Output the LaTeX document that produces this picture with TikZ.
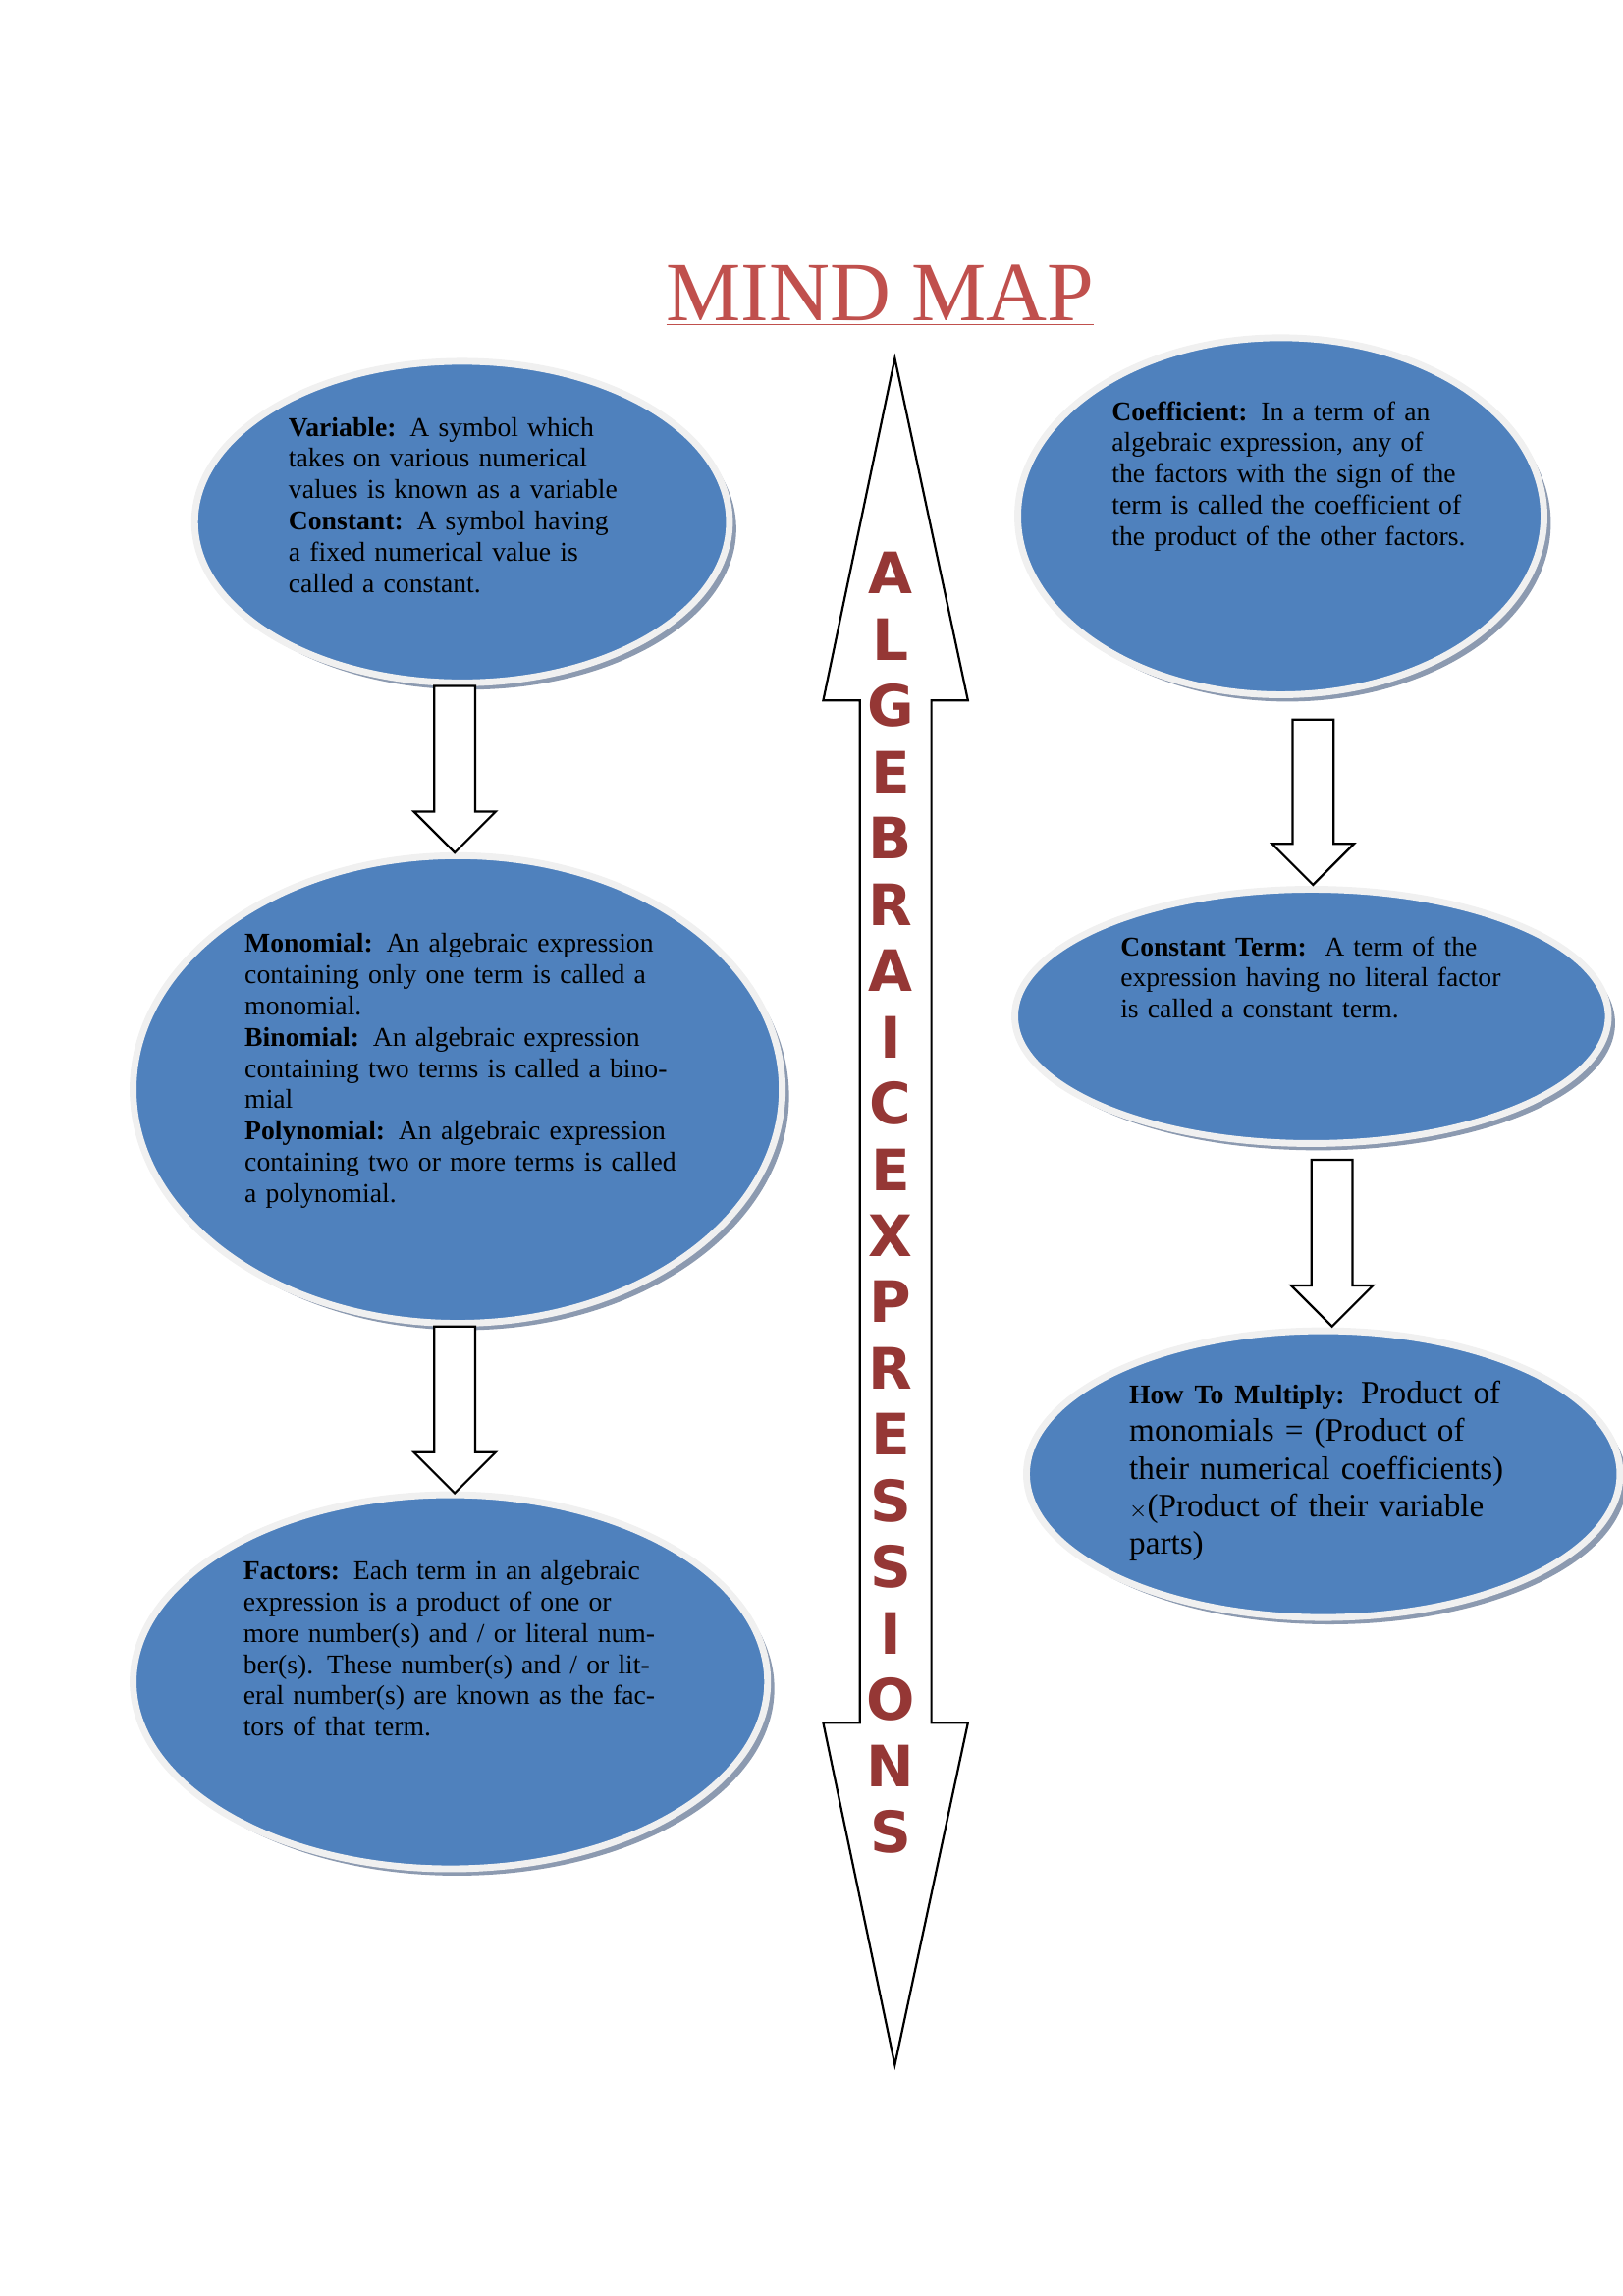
\documentclass[tikz,border=0pt]{standalone}
\usepackage{fontspec}
\setmainfont{Liberation Serif}
\newfontfamily\lettersfont{DejaVu Sans}
\usetikzlibrary{shapes.geometric,shadows}
\definecolor{bubblefill}{HTML}{4F81BD}
\definecolor{rimgray}{HTML}{8C9AB0}
\definecolor{titlered}{HTML}{C0504D}
\definecolor{letterred}{HTML}{953735}
\newcommand{\downblock}[4]{% x, top, head start, tip
  \draw[thick,fill=white] (#1-14,#2) -- (#1+14,#2) -- (#1+14,#3) -- (#1+28,#3)
    -- (#1,#4) -- (#1-28,#3) -- (#1-14,#3) -- cycle;}
\begin{document}
\begin{tikzpicture}
[   x=0.01892cm,y=-0.01892cm,
    bubble/.style={ellipse,fill=bubblefill,draw=gray!12,line width=2.5pt,
        drop shadow={shadow xshift=2.5pt,shadow yshift=-2.5pt,fill=rimgray,opacity=1}},
    note/.style={anchor=north west,align=left,font=\fontsize{10}{11.5}\selectfont,inner sep=0pt}
]
    \useasboundingbox (0,0) rectangle (1110,1570);
    \node[text=titlered,font=\fontsize{31}{31}\selectfont] (title) at (602,202)
        {\underline{MIND MAP}};
    % bubbles
    \node[bubble,minimum width=6.92cm,minimum height=4.16cm] (var) at (316,357) {};
    \node[bubble,minimum width=8.40cm,minimum height=6.05cm] (mono) at (313,745) {};
    \node[bubble,minimum width=8.21cm,minimum height=4.84cm] (fact) at (308,1150) {};
    \node[bubble,minimum width=6.81cm,minimum height=4.62cm] (coef) at (876,353) {};
    \node[bubble,minimum width=7.68cm,minimum height=3.29cm] (const) at (897,695) {};
    \node[bubble,minimum width=7.68cm,minimum height=3.71cm] (mult) at (905,1008) {};
    % texts
    \node[note,text width=4.4cm] (vartext) at (197,285)
        {\textbf{Variable:} A symbol which takes on various numerical values is known as a variable\\
         \textbf{Constant:} A symbol having a fixed numerical value is called a constant.};
    \node[note,text width=5.8cm] (monotext) at (167,638)
        {\textbf{Monomial:} An algebraic expression containing only one term is called a monomial.\\
         \textbf{Binomial:} An algebraic expression containing two terms is called a binomial\\
         \textbf{Polynomial:} An algebraic expression containing two or more terms is called a polynomial.};
    \node[note,text width=5.6cm] (facttext) at (166,1067)
        {\textbf{Factors:} Each term in an algebraic expression is a product of one or more number(s) and / or literal number(s). These number(s) and / or literal number(s) are known as the factors of that term.};
    \node[note,text width=4.65cm] (coeftext) at (760,274)
        {\textbf{Coefficient:} In a term of an algebraic expression, any of the factors with the sign of the term is called the coefficient of the product of the other factors.};
    \node[note,text width=5.2cm] (consttext) at (766,640)
        {\textbf{Constant Term:}\ \ A term of the expression having no literal factor is called a constant term.};
    \node[note,text width=5.1cm,font=\fontsize{12}{13.8}\selectfont] (multtext) at (772,944)
        {{\fontsize{10}{13.8}\selectfont\textbf{How To Multiply:}} Product of monomials = (Product of their numerical coefficients) {\fontsize{8}{8}\selectfont$\times$}(Product of their variable parts)};
    % block arrows
    \downblock{311}{469}{555}{583}
    \downblock{311}{907}{993}{1021}
    \downblock{898}{492}{577}{605}
    \downblock{911}{793}{879}{907}
    % double arrow
    \draw[thick,fill=white] (612,245) -- (662,479) -- (637,479) -- (637,1178) -- (662,1178)
        -- (612,1412) -- (563,1178) -- (588,1178) -- (588,479) -- (563,479) -- cycle;
    \foreach \ch [count=\i from 0] in {A,L,G,E,B,R,A,I,C,E,X,P,R,E,S,S,I,O,N,S}
        \node[text=letterred,font=\lettersfont\bfseries\fontsize{21}{21}\selectfont] (ch\i) at (609,392+45.3*\i) {\ch};
\end{tikzpicture}
\end{document}
